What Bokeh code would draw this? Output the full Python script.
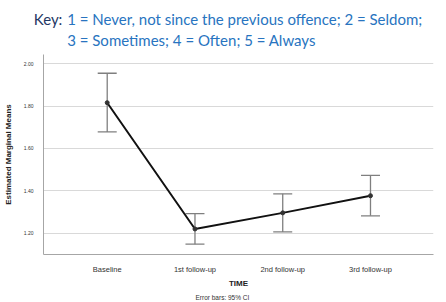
from bokeh.plotting import figure
from bokeh.layouts import column
from bokeh.models import (ColumnDataSource, FixedTicker, Whisker, TeeHead, Label, Range1d,
                          NumeralTickFormatter, Title)
from bokeh.embed import file_html
from bokeh.resources import INLINE

categories = ["Baseline", "1st follow-up", "2nd follow-up", "3rd follow-up"]
means = [1.816, 1.220, 1.296, 1.377]
ci_upper = [1.955, 1.292, 1.386, 1.473]
ci_lower = [1.678, 1.148, 1.206, 1.282]
y_ticks = [1.20, 1.40, 1.60, 1.80, 2.00]

key_label = "Key:"
key_line1 = "1 = Never, not since the previous offence; 2 = Seldom;"
key_line2 = "3 = Sometimes; 4 = Often; 5 = Always"

# ---- key strip (its own small figure so text is not clipped) ----
k = figure(width=446, height=54, output_backend="svg", toolbar_location=None,
           x_axis_type=None, y_axis_type=None, x_range=Range1d(0, 1), y_range=Range1d(0, 1),
           min_border=0, min_border_left=0, min_border_right=0, min_border_top=0,
           min_border_bottom=0)
k.frame_align = False
k.outline_line_color = None
k.grid.visible = False
KEY_FONT = "Lato"
KEY_SIZE = "15px"
k.add_layout(Label(x=33.3, y=36.0, x_units="screen", y_units="screen", text=key_label,
                   text_font=KEY_FONT, text_font_size=KEY_SIZE, text_color="#1f3864",
                   text_baseline="alphabetic"))
k.add_layout(Label(x=66.7, y=36.0, x_units="screen", y_units="screen", text=key_line1,
                   text_font=KEY_FONT, text_font_size=KEY_SIZE, text_color="#2874c0",
                   text_baseline="alphabetic"))
k.add_layout(Label(x=66.7, y=15.0, x_units="screen", y_units="screen", text=key_line2,
                   text_font=KEY_FONT, text_font_size=KEY_SIZE, text_color="#2874c0",
                   text_baseline="alphabetic"))

# ---- main chart ----
xs = list(range(len(categories)))
src = ColumnDataSource(dict(x=xs, m=means, up=ci_upper, lo=ci_lower))

p = figure(width=446, height=248, output_backend="svg", toolbar_location=None,
           x_range=Range1d(-0.726, 3.718), y_range=Range1d(1.0995, 2.0435),
           min_border_left=43, min_border_right=13, min_border_top=0, min_border_bottom=46)
p.frame_align = False
p.outline_line_color = None

p.xgrid.grid_line_color = None
p.ygrid.grid_line_color = "#d9d9d9"
p.ygrid.grid_line_width = 1

p.xaxis.ticker = FixedTicker(ticks=xs)
p.xaxis.major_label_overrides = {i: c for i, c in enumerate(categories)}
p.yaxis.ticker = FixedTicker(ticks=y_ticks)
p.yaxis.formatter = NumeralTickFormatter(format="0.00")
for ax in (p.xaxis, p.yaxis):
    ax.axis_line_color = "#a6a6a6"
    ax.axis_line_width = 1
    ax.major_tick_line_color = None
    ax.minor_tick_line_color = None
    ax.major_label_text_font = "Liberation Sans"
    ax.major_label_text_color = "#333333"
    ax.axis_label_text_font = "Liberation Sans"
    ax.axis_label_text_font_style = "bold"
    ax.axis_label_text_font_size = "8px"
    ax.axis_label_text_color = "#222222"
p.xaxis.major_label_text_font_size = "7.5px"
p.yaxis.major_label_text_font_size = "5px"
p.xaxis.major_label_standoff = 4
p.yaxis.major_label_standoff = 4
p.xaxis.axis_label = "TIME"
p.yaxis.axis_label = "Estimated Marginal Means"
p.xaxis.axis_label_standoff = 2
p.yaxis.axis_label_standoff = 8

w = Whisker(source=src, base="x", upper="up", lower="lo",
            line_color="#7f7f7f", line_width=1.3,
            upper_head=TeeHead(size=19, line_color="#7f7f7f", line_width=1.3),
            lower_head=TeeHead(size=19, line_color="#7f7f7f", line_width=1.3))
p.add_layout(w)

p.line("x", "m", source=src, line_color="#111111", line_width=2)
p.scatter("x", "m", source=src, size=4, fill_color="#333333", line_color="#333333")

p.add_layout(Title(text="Error bars: 95% CI", align="left", offset=152, standoff=3,
                   text_font="Liberation Sans", text_font_size="6.5px",
                   text_font_style="normal", text_color="#333333"), "below")

layout = column(k, p, spacing=0)
open("out.html", "w").write(file_html(layout, INLINE))
